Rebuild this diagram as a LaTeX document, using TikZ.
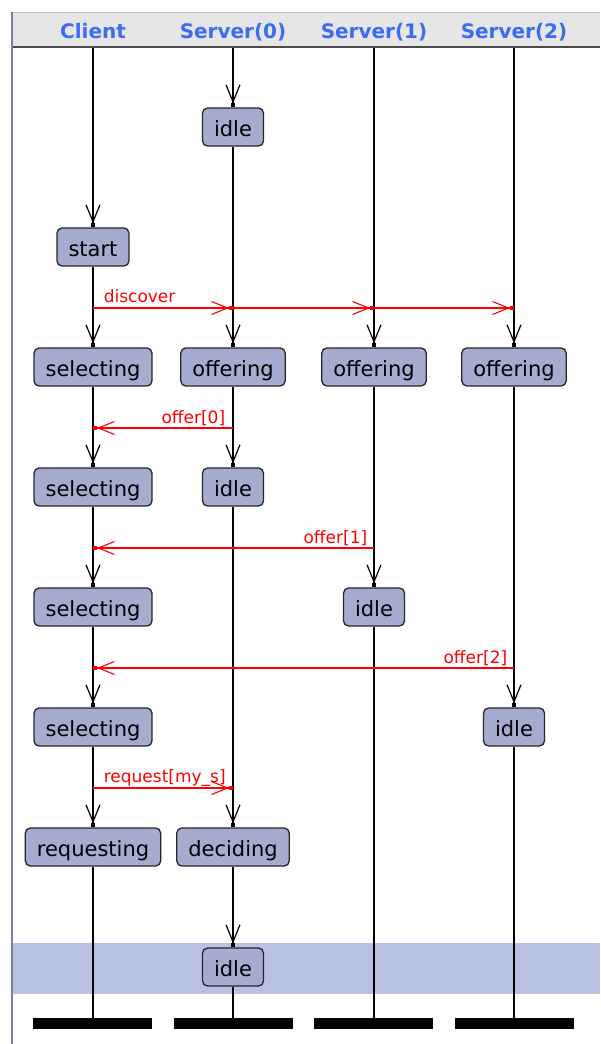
\documentclass[tikz,border=0pt]{standalone}
\usepackage{fontspec}
\setmainfont{DejaVu Sans}
\usetikzlibrary{arrows.meta}

\definecolor{statefill}{RGB}{165,172,208}
\definecolor{bandfill}{RGB}{184,192,228}
\definecolor{headfill}{RGB}{230,230,230}
\definecolor{headtext}{RGB}{59,108,245}
\definecolor{frameline}{RGB}{120,130,155}
\definecolor{msgred}{RGB}{255,0,0}

\tikzset{
  state/.style={draw=black!85, line width=1.3pt, fill=statefill, rounded corners=5pt,
    minimum height=38pt, inner xsep=11.5pt, inner ysep=0pt,
    text height=19pt, text depth=0pt,
    font=\fontsize{21}{21}\selectfont},
  lifehead/.style={text=headtext, anchor=base, inner sep=0pt,
    font=\fontsize{20}{20}\selectfont\bfseries},
  endbar/.style={fill=black, draw=none, minimum width=119pt, minimum height=11pt, inner sep=0pt},
  life/.style={draw=black, line width=1.5pt},
  step arrow/.style={life,
    -{Straight Barb[length=17pt,width=14pt,line width=1.2pt,sep=0pt]Square[length=4pt,width=4pt]}},
  msg/.style={draw=msgred, line width=1.6pt,
    -{Straight Barb[length=16pt,width=13pt,line width=1.1pt,sep=0pt]Square[length=4pt,width=4pt]}},
  msglabel/.style={text=msgred, inner sep=0pt, font=\fontsize{17}{17}\selectfont},
}

\begin{document}
\begin{tikzpicture}[x=1pt,y=-1pt]
\useasboundingbox (0,0) rectangle (600,1044);
\fill[white] (0,0) rectangle (600,1044);

% frame, header strip and highlighted row
\fill[headfill] (12,12) rectangle (600,47);
\draw[frameline!50, line width=1pt] (12,12) -- (600,12);
\draw[black!70, line width=2.5pt] (12,47) -- (600,47);
\fill[bandfill] (13,943) rectangle (600,994);
\draw[frameline, line width=2pt] (12,12) -- (12,1044);

% lifeline headers
\node[lifehead] (tC) at (93,38) {Client};
\node[lifehead] (t0) at (233,38) {Server(0)};
\node[lifehead] (t1) at (374,38) {Server(1)};
\node[lifehead] (t2) at (514,38) {Server(2)};

\coordinate (hC) at (93,48);
\coordinate (h0) at (233,48);
\coordinate (h1) at (374,48);
\coordinate (h2) at (514,48);

% states
\node[state] (c1) at (93,247) {start};
\node[state] (c2) at (93,367) {selecting};
\node[state] (c3) at (93,487) {selecting};
\node[state] (c4) at (93,607) {selecting};
\node[state] (c5) at (93,727) {selecting};
\node[state] (c6) at (93,847) {requesting};

\node[state] (a1) at (233,127) {idle};
\node[state] (a2) at (233,367) {offering};
\node[state] (a3) at (233,487) {idle};
\node[state] (a4) at (233,847) {deciding};
\node[state] (a5) at (233,967) {idle};

\node[state] (b1) at (374,367) {offering};
\node[state] (b2) at (374,607) {idle};

\node[state] (d1) at (514,367) {offering};
\node[state] (d2) at (514,727) {idle};

% end bars
\node[endbar] (eC) at (92.5,1023.5) {};
\node[endbar] (e0) at (233,1023.5) {};
\node[endbar] (e1) at (373,1023.5) {};
\node[endbar] (e2) at (514,1023.5) {};

% lifelines
\draw[step arrow] (hC) -- (c1.north);
\draw[step arrow] (c1.south) -- (c2.north);
\draw[step arrow] (c2.south) -- (c3.north);
\draw[step arrow] (c3.south) -- (c4.north);
\draw[step arrow] (c4.south) -- (c5.north);
\draw[step arrow] (c5.south) -- (c6.north);
\draw[life] (c6.south) -- (eC.north -| c6.south);

\draw[step arrow] (h0) -- (a1.north);
\draw[step arrow] (a1.south) -- (a2.north);
\draw[step arrow] (a2.south) -- (a3.north);
\draw[step arrow] (a3.south) -- (a4.north);
\draw[step arrow] (a4.south) -- (a5.north);
\draw[life] (a5.south) -- (e0.north -| a5.south);

\draw[step arrow] (h1) -- (b1.north);
\draw[step arrow] (b1.south) -- (b2.north);
\draw[life] (b2.south) -- (e1.north -| b2.south);

\draw[step arrow] (h2) -- (d1.north);
\draw[step arrow] (d1.south) -- (d2.north);
\draw[life] (d2.south) -- (e2.north -| d2.south);

% message points on the lifelines
\coordinate (mC1) at (93,308);
\coordinate (m01) at (233,308);
\coordinate (m11) at (374,308);
\coordinate (m21) at (514,308);
\coordinate (m02) at (233,428);
\coordinate (mC2) at (93,428);
\coordinate (m12) at (374,548);
\coordinate (mC3) at (93,548);
\coordinate (m23) at (514,668);
\coordinate (mC4) at (93,668);
\coordinate (mC5) at (93,788);
\coordinate (m05) at (233,788);

% messages
\draw[msg] (mC1) -- (m01)
  node[msglabel, pos=0, anchor=base west, xshift=10pt, yshift=6pt] (l1) {discover};
\draw[msg] (m01) -- (m11);
\draw[msg] (m11) -- (m21);
\draw[msg] (m02) -- (mC2)
  node[msglabel, pos=0, anchor=base east, xshift=-7pt, yshift=5pt] (l2) {offer[0]};
\draw[msg] (m12) -- (mC3)
  node[msglabel, pos=0, anchor=base east, xshift=-6pt, yshift=5pt] (l3) {offer[1]};
\draw[msg] (m23) -- (mC4)
  node[msglabel, pos=0, anchor=base east, xshift=-6pt, yshift=5pt] (l4) {offer[2]};
\draw[msg] (mC5) -- (m05)
  node[msglabel, pos=0, anchor=base west, xshift=10pt, yshift=6pt] (l5) {request[my\_s]};
\end{tikzpicture}
\end{document}
